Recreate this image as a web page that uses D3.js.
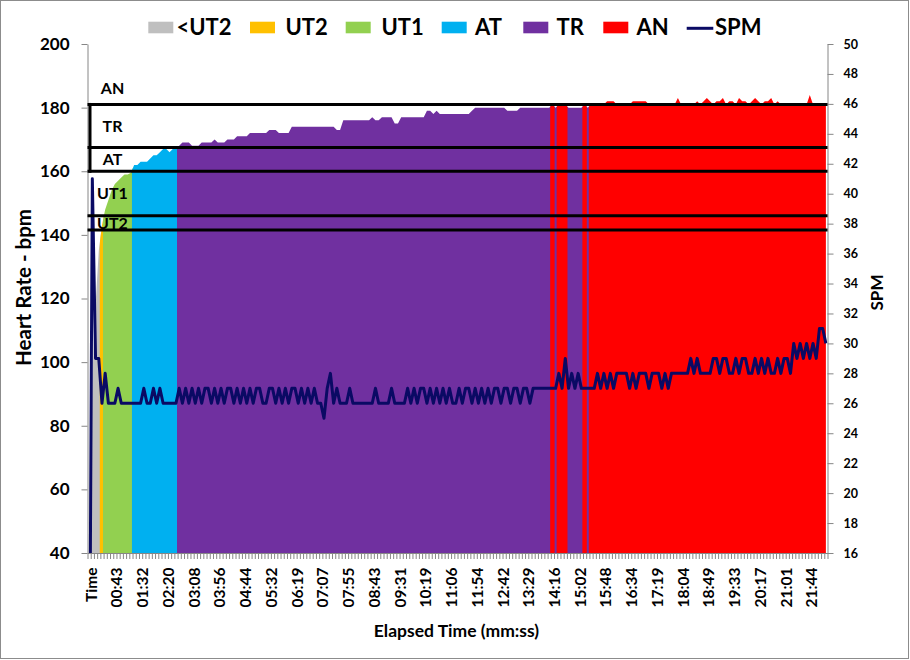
<!DOCTYPE html>
<html><head><meta charset="utf-8">
<script src="https://cdn.jsdelivr.net/npm/d3@7"></script>
<style>
body{margin:0;background:#fff;}
svg{display:block;font-family:Lato,"Noto Sans",sans-serif;font-weight:bold;}
</style></head><body>
<svg id="chart" width="910" height="660"></svg>
<script>
// ---------- DATA ----------
const tickLabels = ["Time","00:43","01:32","02:20","03:08","03:56","04:44","05:32","06:19","07:07","07:55","08:43","09:31","10:19","11:06","11:54","12:42","13:29","14:16","15:02","15:48","16:34","17:19","18:04","18:49","19:33","20:17","21:01","21:44"];
const labelEvery = 8; // one tick label every 8 samples

// heart rate (bpm), one value per sample
const hr = [
0,95,118,135,143,148,151,154,156,157,158,159,159,159.5,
162,162,163,163,163,164,165,165,166,167,167,166,167,167,
168,169,169,169,168,168,168,169,169,169,169,170,169,169,169,170,170,170,
171,171,171,171,172,172,172,172,172,172,173,173,173,172,172,172,172,
174,174,174,174,174,174,174,174,174,174,174,174,174,174,173,173,
176,176,176,176,176,176,176,176,176,177,176,176,177,177,177,177,175,175,
177,177,177,177,177,177,177,177,179,179,178,179,
178,178,178,178,178,178,178,178,178,178,179,
180,180,180,180,180,180,180,180,180,180,179,179,179,179,
180,180,180,180,180,180,180,180,180,180,
181,180,181,181,181,180,180,180,180,180,181,180,
181,181,181,181,181,182,182,182,181,181,181,181,181,
182,182,182,182,182,181,181,181,181,181,181,181,181,181,183,181,181,181,181,181,
182,181,182,183,182,181,182,182,183,181,182,182,181,183,182,182,181,182,183,182,181,182,182,183,181,182,
181,181,181,181,181,181,181,181,181,184,181,181,181,181,181
];

// strokes per minute, one value per sample
const spm = [
0,41,29,29,26,28,26,26,26,27,26,26,26,26,26,26,26,27,26,26,27,26,27,26,26,26,26,26,
27,26,27,26,27,26,27,26,27,27,26,27,26,27,26,27,27,26,27,26,27,26,27,26,27,27,26,26,
27,27,26,27,26,27,26,27,27,26,27,26,27,26,27,26,26,
25,27,28,26,27,26,26,26,27,26,26,26,26,26,26,26,27,26,26,26,26,27,26,26,26,26,
27,26,27,26,27,27,26,27,26,27,26,27,26,27,26,26,
27,26,
27,27,26,27,26,27,26,27,26,27,27,26,27,27,26,27,27,26,27,27,26,27,
27,27,27,27,27,27,27,
28,27,29,27,28,27,28,
27,27,27,27,27,
28,27,28,27,28,27,
28,28,28,28,
27,28,27,28,28,28,27,28,28,28,27,28,27,
28,28,28,28,28,28,
29,28,29,28,28,28,28,
29,29,28,29,29,28,28,29,28,29,29,28,28,29,28,29,28,29,28,28,29,28,29,29,28,
30,29,30,29,30,29,30,29,31,31,30
];

const zoneNames  = ["<UT2","UT2","UT1","AT","TR","AN"];
const zoneColors = ["#bfbfbf","#ffc000","#92d050","#00b0f0","#7030a0","#ff0000"];
const zoneBounds = [141.5,146,160,167.5,181]; // lower bound of UT2, UT1, AT, TR, AN
const zoneTop = 191;
const spmName = "SPM", spmColor = "#0a0a64";
const yTicks  = [40,60,80,100,120,140,160,180,200];
const y2Ticks = [16,18,20,22,24,26,28,30,32,34,36,38,40,42,44,46,48,50];

// ---------- CHART ----------
const svg = d3.select("#chart");
const plot = {l:87.5, r:827.5, t:44, b:553};
const N = hr.length;
const x  = d3.scaleLinear().domain([0,N]).range([plot.l,plot.r]);
const cx = i => x(i+0.5);
const y  = d3.scaleLinear().domain([40,200]).range([plot.b,plot.t]);
const y2 = d3.scaleLinear().domain([16,50]).range([plot.b,plot.t]);
const axisGrey = "#868686";
const font = "Lato";

svg.append("rect").attr("x",0.5).attr("y",0.5).attr("width",908).attr("height",658)
  .attr("fill","#fff").attr("stroke","#8c8c8c");

const defs = svg.append("defs");
defs.append("clipPath").attr("id","plotclip").append("rect")
  .attr("x",plot.l).attr("y",plot.t).attr("width",plot.r-plot.l).attr("height",plot.b-plot.t);

const zoneOf = h => d3.bisectRight(zoneBounds,h);
const zones = hr.map(zoneOf);

// consecutive runs of samples belonging to the same zone
const runs = [];
zones.forEach((z,i)=>{
  const last = runs[runs.length-1];
  if(last && last.z===z) last.end = i; else runs.push({z, start:i, end:i});
});

const area = d3.area().x((d,i)=>cx(i)).y0(plot.b).y1(d=>y(d));
zoneNames.forEach((name,z)=>{
  const cp = defs.append("clipPath").attr("id","zone"+z);
  runs.filter(r=>r.z===z).forEach(r=>{
    const x0 = Math.max(plot.l, x(r.start)-0.6), x1 = Math.min(plot.r, x(r.end+1)+0.6);
    cp.append("rect").attr("x",x0).attr("y",plot.t)
      .attr("width",x1-x0).attr("height",plot.b-plot.t);
  });
  svg.append("path").datum(hr).attr("d",area)
    .attr("fill",zoneColors[z]).attr("clip-path","url(#zone"+z+")");
});

// axes
const gL = svg.append("g").attr("transform",`translate(${plot.l},0)`)
  .call(d3.axisLeft(y).tickValues(yTicks).tickSize(6).tickSizeOuter(0).tickPadding(12));
const gR = svg.append("g").attr("transform",`translate(${plot.r},0)`)
  .call(d3.axisRight(y2).tickValues(y2Ticks).tickSize(6).tickSizeOuter(0).tickPadding(10));
const gB = svg.append("g").attr("transform",`translate(0,${plot.b})`)
  .call(d3.axisBottom(x).tickValues(d3.range(0,N+1)).tickSize(6).tickSizeOuter(0).tickFormat(""));
[gL,gR,gB].forEach(g=>{
  g.selectAll("path,line").attr("stroke",axisGrey);
  g.selectAll("text").attr("fill","#000").style("font-family",font).style("font-weight","bold");
});
gL.selectAll("text").style("font-size","17px");
gR.selectAll("text").style("font-size","12.5px");

const labelPos = tickLabels.map((t,k)=>k*labelEvery+0.5);
const gBL = svg.append("g").attr("transform",`translate(0,${plot.b})`)
  .call(d3.axisBottom(x).tickValues(labelPos).tickSize(0)
        .tickFormat((d,k)=>tickLabels[k]));
gBL.select(".domain").remove();
gBL.selectAll("text")
  .attr("transform","rotate(-90)")
  .attr("x",-14.5).attr("y",1.5).attr("dy","0.36em")
  .style("text-anchor","end").style("font-size","15.5px")
  .style("font-family",font).style("font-weight","bold").attr("fill","#000");

// SPM line
const line = d3.line().x((d,i)=>cx(i)).y(d=>y2(d));
svg.append("path").datum(spm).attr("d",line).attr("clip-path","url(#plotclip)")
  .attr("fill","none").attr("stroke",spmColor).attr("stroke-width",3)
  .attr("stroke-linejoin","round");

// zone boundary lines
const gZ = svg.append("g");
zoneBounds.forEach(b=>{
  gZ.append("line").attr("x1",plot.l).attr("x2",plot.r).attr("y1",y(b)).attr("y2",y(b))
    .attr("stroke","#000").attr("stroke-width",3);
});
gZ.append("line").attr("x1",plot.l+2.5).attr("x2",plot.l+2.5)
  .attr("y1",y(zoneBounds[4])-1.5).attr("y2",y(zoneBounds[2])+1.5)
  .attr("stroke","#000").attr("stroke-width",3);

// zone labels
const bandEdges = zoneBounds.concat([zoneTop]);
zoneNames.slice(1).forEach((name,k)=>{
  const mid = (bandEdges[k]+bandEdges[k+1])/2;
  svg.append("text").attr("x",112.5).attr("y",y(mid)).attr("dy","0.36em")
    .attr("text-anchor","middle").style("font-size","16px").text(name);
});

// axis titles
svg.append("text").attr("transform","translate(31,287.5) rotate(-90)")
  .attr("text-anchor","middle").style("font-size","20.5px").text("Heart Rate - bpm");
svg.append("text").attr("transform","translate(882.5,292.5) rotate(-90)")
  .attr("text-anchor","middle").style("font-size","17px").text("SPM");
svg.append("text").attr("x",456.5).attr("y",636.5)
  .attr("text-anchor","middle").style("font-size","17.5px").text("Elapsed Time (mm:ss)");

// legend
const legX = [148.3,250,345.7,441.7,523.3,603.3];
const legTX = [176.5,285.5,381.5,475,556.5,636.5];
zoneNames.forEach((name,z)=>{
  svg.append("rect").attr("x",legX[z]).attr("y",21.7).attr("width",25).attr("height",11.6)
    .attr("fill",zoneColors[z]);
  svg.append("text").attr("x",legTX[z]).attr("y",35).style("font-size","22px").text(name);
});
svg.append("line").attr("x1",686.7).attr("x2",713.3).attr("y1",28.3).attr("y2",28.3)
  .attr("stroke",spmColor).attr("stroke-width",3);
svg.append("text").attr("x",715).attr("y",35).style("font-size","22px").text(spmName);
</script>
</body></html>
